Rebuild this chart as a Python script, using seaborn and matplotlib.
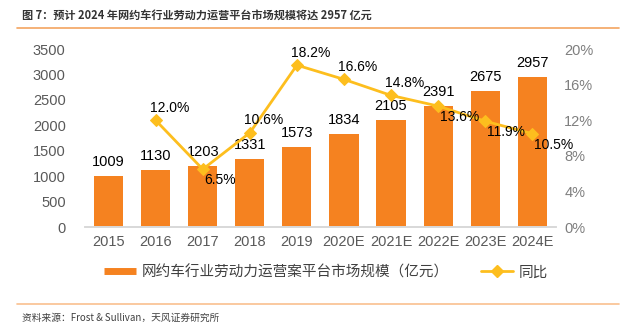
import numpy as np
import pandas as pd
import matplotlib
matplotlib.use("Agg")
import matplotlib.pyplot as plt
import seaborn as sns
from matplotlib.lines import Line2D

years = ["2015", "2016", "2017", "2018", "2019", "2020E", "2021E", "2022E", "2023E", "2024E"]
market_size = [1009, 1130, 1203, 1331, 1573, 1834, 2105, 2391, 2675, 2957]
growth = [np.nan, 12.0, 6.5, 10.6, 18.2, 16.6, 14.8, 13.6, 11.9, 10.5]
label_below = [False, False, True, False, False, False, False, True, True, True]
left_ticks = [0, 500, 1000, 1500, 2000, 2500, 3000, 3500]
right_ticks = [0, 4, 8, 12, 16, 20]

title = "图 7：预计 2024 年网约车行业劳动力运营平台市场规模将达 2957 亿元"
source = "资料来源：Frost & Sullivan，天风证券研究所"
bar_name = "网约车行业劳动力运营案平台市场规模（亿元）"
line_name = "同比"

sns.set_theme(style="white")
plt.rcParams["font.family"] = ["Liberation Sans", "Noto Sans CJK SC", "DejaVu Sans"]

bar_color = "#F58220"
line_color = "#FDBE1E"
tick_color = "#595959"

fig = plt.figure(figsize=(6.21, 3.32), dpi=100)
ax = fig.add_axes([0.137, 0.316, 0.758, 0.536])

df = pd.DataFrame({"year": years, "size": market_size, "growth": growth})
sns.barplot(data=df, x="year", y="size", color=bar_color, saturation=1, width=0.62, ax=ax)
ax.set_ylim(0, 3500)
ax.set_yticks(left_ticks)
ax.set_xlim(-0.5, len(years) - 0.5)
ax.set_xlabel("")
ax.set_ylabel("")
for b in ax.patches:
    b.set_edgecolor("none")
for i, v in enumerate(market_size):
    ax.annotate(str(v), (i, v), xytext=(0, 5), textcoords="offset points",
                ha="center", va="bottom", fontsize=10.5, color="black")

ax2 = ax.twinx()
df["x"] = np.arange(len(years))
sns.lineplot(data=df, x="x", y="growth", color=line_color, marker="D", markersize=6,
             markeredgecolor=line_color, linewidth=2, ax=ax2)
ax2.set_ylim(0, 20)
ax2.set_yticks(right_ticks)
ax2.set_yticklabels([f"{t}%" for t in right_ticks])
ax2.set_xlim(-0.5, len(years) - 0.5)
ax2.set_xlabel("")
ax2.set_ylabel("")
for i, (g, below) in enumerate(zip(growth, label_below)):
    if np.isnan(g):
        continue
    if below:
        ax2.annotate(f"{g:.1f}%", (i, g), xytext=(1, -3), textcoords="offset points",
                     ha="left", va="top", fontsize=10, color="black")
    else:
        ax2.annotate(f"{g:.1f}%", (i, g), xytext=(-4, 4), textcoords="offset points",
                     ha="left", va="bottom", fontsize=10, color="black")

for a in (ax, ax2):
    for s in ["top", "left", "right"]:
        a.spines[s].set_visible(False)
    a.spines["bottom"].set_color("#D9D9D9")
    a.tick_params(axis="both", length=0, labelsize=10.5, labelcolor=tick_color)
ax.tick_params(axis="y", pad=14)
ax2.tick_params(axis="y", pad=6, labelcolor="#7F7F7F")
ax.tick_params(axis="x", pad=6)

handles = [Line2D([0], [0], color=bar_color, linewidth=5, solid_capstyle="butt"),
           Line2D([0], [0], color=line_color, marker="D", markersize=6, linewidth=2)]
fig.legend(handles, [bar_name, line_name], loc="center", bbox_to_anchor=(0.525, 0.18),
           ncol=2, frameon=False, fontsize=10.5, handlelength=2.2, handletextpad=0.4,
           columnspacing=2.2, labelcolor="#404040")

fig.text(0.035, 0.955, title, fontsize=8, fontweight="bold", color="#333333",
         family=["Noto Sans CJK SC"], va="center", ha="left")
fig.add_artist(Line2D([0.028, 0.997], [0.915, 0.915], color="#F4A460", linewidth=1.2,
                      transform=fig.transFigure))
fig.add_artist(Line2D([0.028, 0.997], [0.083, 0.083], color="#F9C08F", linewidth=1.2,
                      transform=fig.transFigure))
fig.text(0.036, 0.042, source, fontsize=7, color="#404040",
         family=["Noto Sans CJK SC"], va="center", ha="left")

fig.savefig("out.png", dpi=100)
